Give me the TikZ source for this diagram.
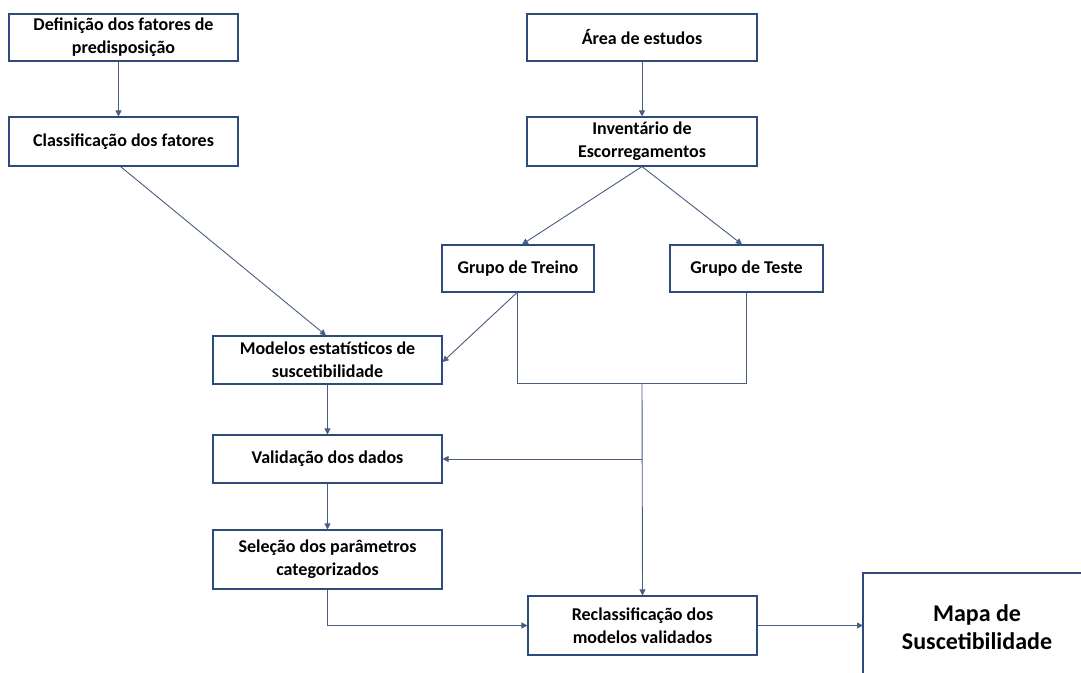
\documentclass[tikz,border=0pt]{standalone}
\usepackage{fontspec}
\setmainfont{Carlito}
\usetikzlibrary{arrows.meta,calc}
\definecolor{boxline}{HTML}{2F4B7C}
\definecolor{conn}{HTML}{4A5C82}
\begin{document}
\begin{tikzpicture}[x=1pt,y=-1pt,
  box/.style={draw=boxline,line width=1.1pt,fill=white,align=center,inner sep=0pt,
    font=\fontsize{18}{23}\selectfont\bfseries},
  conline/.style={draw=conn,line width=0.9pt},
  arr/.style={conline,-{Triangle[length=6pt,width=6pt]}}]
\useasboundingbox (0,0) rectangle (1081,672);
\node[box,minimum width=229pt,minimum height=47pt] (A) at (123.5,37.5) {Definição dos fatores de\\predisposição};
\node[box,minimum width=229pt,minimum height=49pt] (B) at (123.5,141.5) {Classificação dos fatores};
\node[box,minimum width=230pt,minimum height=47pt] (C) at (642,37.5) {Área de estudos};
\node[box,minimum width=230pt,minimum height=49pt] (D) at (642,141.5) {Inventário de\\Escorregamentos};
\node[box,minimum width=152pt,minimum height=47pt] (E) at (518,268.5) {Grupo de Treino};
\node[box,minimum width=153pt,minimum height=47pt] (F) at (746.5,268.5) {Grupo de Teste};
\node[box,minimum width=229pt,minimum height=48pt] (G) at (327.5,360) {Modelos estatísticos de\\suscetibilidade};
\node[box,minimum width=229pt,minimum height=48pt] (H) at (327.5,459) {Validação dos dados};
\node[box,minimum width=229pt,minimum height=59pt] (I) at (327.5,559.5) {Seleção dos parâmetros\\categorizados};
\node[box,minimum width=229pt,minimum height=59pt] (J) at (642.5,625.5) {Reclassificação dos\\modelos validados};
\coordinate (Ktl) at (863,573);
\coordinate (Ktr) at (1090,573);
\coordinate (Kbl) at (863,690);
\draw[draw=boxline,line width=1.1pt] (Ktr) -- (Ktl) -- (Kbl);
\node[align=center,font=\fontsize{24}{28}\selectfont\bfseries] (K) at (977,627) {Mapa de\\Suscetibilidade};
\coordinate (Kin) at (863,626);
% connectors
\draw[arr] ([xshift=-5pt]A.south) -- ([xshift=-5pt]B.north);
\draw[arr] (C.south) -- (D.north);
\draw[arr] ([xshift=-3pt]B.south) -- ([xshift=-1.5pt]G.north);
\draw[arr] (D.south) -- ([xshift=4pt]E.north);
\draw[arr] (D.south) -- ([xshift=-4.5pt]F.north);
\draw[arr] ([xshift=-1pt]E.south) -- ([yshift=-2pt]G.east);
\coordinate (m) at (642,383);
\coordinate (v) at (642,459);
\draw[conline] ([xshift=-1pt]E.south) -- ([xshift=-1pt]E.south |- m) -| (F.south);
\draw[arr] (m) -- (J.north);
\draw[arr] (v) -- (H.east);
\draw[arr] (G.south) -- (H.north);
\draw[arr] (H.south) -- (I.north);
\draw[arr] (I.south) |- (J.west);
\draw[arr] (J.east) -- (J.east -| Kin);
\end{tikzpicture}
\end{document}
